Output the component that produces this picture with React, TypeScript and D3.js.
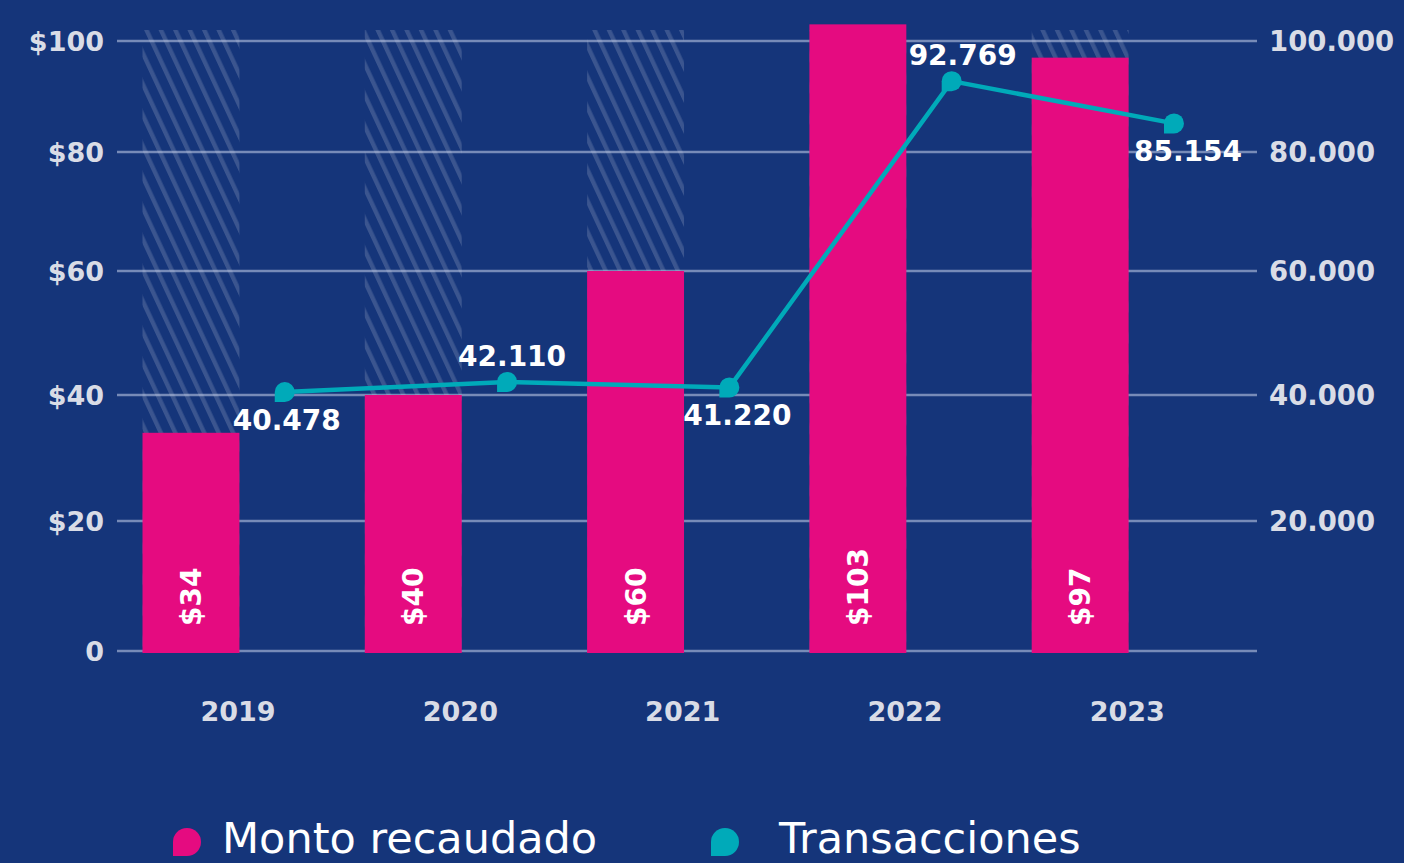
import React, { useEffect, useRef } from 'react'
import * as d3 from 'd3'

// values
const years = ['2019', '2020', '2021', '2022', '2023']
const montoRecaudado = [34, 40, 60, 103, 97] // millones de $
const transacciones = [40478, 42110, 41220, 92769, 85154]
const leftTicks = [0, 20, 40, 60, 80, 100]
const rightTicks = [20000, 40000, 60000, 80000, 100000]
const legendItems = ['Monto recaudado', 'Transacciones']

const W = 1404
const H = 863
const BG = '#15357a'
const PINK = '#e50b80'
const TEAL = '#00aab9'
const AXIS_TEXT = '#d9dce6'
const FONT = '"DejaVu Sans", sans-serif'

// drop shaped marker: circle with the lower-left corner squared off
const dropPath = (cx: number, cy: number, r: number) =>
  `M${cx - r},${cy + r}L${cx - r},${cy}A${r},${r} 0 0 1 ${cx},${cy - r}` +
  `A${r},${r} 0 0 1 ${cx + r},${cy}A${r},${r} 0 0 1 ${cx},${cy + r}Z`

export default function App() {
  const svgRef = useRef<SVGSVGElement>(null)

  useEffect(() => {
    if (!svgRef.current) return
    const svg = d3.select(svgRef.current)
    svg.selectAll('*').remove()

    const locale = d3.formatLocale({ decimal: ',', thousands: '.', grouping: [3], currency: ['$', ''] })
    const fmtThousands = locale.format(',')

    const x = d3.scaleBand<string>().domain(years).range([142.5, 142.5 + 5 * 222.3]).padding(0)
    const bw = x.bandwidth()
    const barW = bw * 0.436

    // the reference axis spacing is uneven, so map ticks to their drawn positions
    const yLeft = d3.scaleLinear().domain(leftTicks).range([651, 521, 395, 271, 152, 41])
    const yRight = d3
      .scaleLinear()
      .domain(leftTicks.map((d) => d * 1000))
      .range(yLeft.range())

    svg.append('rect').attr('width', W).attr('height', H).attr('fill', BG)

    // hatch pattern for the background columns
    const defs = svg.append('defs')
    const pat = defs
      .append('pattern')
      .attr('id', 'hatch')
      .attr('patternUnits', 'userSpaceOnUse')
      .attr('width', 13.1)
      .attr('height', 13.1)
      .attr('patternTransform', 'rotate(-25)')
    pat
      .append('rect')
      .attr('x', 0)
      .attr('y', 0)
      .attr('width', 4.3)
      .attr('height', 13.1)
      .attr('fill', 'rgba(255,255,255,0.16)')

    const hatchTop = yLeft(100) - 11
    svg
      .append('g')
      .selectAll('rect')
      .data(years)
      .join('rect')
      .attr('x', (d) => x(d)!)
      .attr('y', hatchTop)
      .attr('width', barW)
      .attr('height', yLeft(0) - hatchTop)
      .attr('fill', 'url(#hatch)')

    // gridlines
    svg
      .append('g')
      .selectAll('line')
      .data(leftTicks)
      .join('line')
      .attr('x1', 117)
      .attr('x2', 1257)
      .attr('y1', (d) => yLeft(d))
      .attr('y2', (d) => yLeft(d))
      .attr('stroke', 'rgba(200,210,235,0.55)')
      .attr('stroke-width', 2.5)

    // left axis labels
    svg
      .append('g')
      .selectAll('text')
      .data(leftTicks)
      .join('text')
      .attr('x', 104)
      .attr('y', (d) => yLeft(d) + 10)
      .attr('text-anchor', 'end')
      .attr('font-family', FONT)
      .attr('font-weight', 'bold')
      .attr('font-size', 27)
      .attr('fill', AXIS_TEXT)
      .text((d) => (d === 0 ? '0' : `$${d}`))

    // right axis labels
    svg
      .append('g')
      .selectAll('text')
      .data(rightTicks)
      .join('text')
      .attr('x', 1269)
      .attr('y', (d) => yRight(d) + 10)
      .attr('text-anchor', 'start')
      .attr('font-family', FONT)
      .attr('font-weight', 'bold')
      .attr('font-size', 27.5)
      .attr('fill', AXIS_TEXT)
      .text((d) => fmtThousands(d))

    // bars
    svg
      .append('g')
      .selectAll('rect')
      .data(montoRecaudado)
      .join('rect')
      .attr('x', (_, i) => x(years[i])!)
      .attr('y', (d) => yLeft(d))
      .attr('width', barW)
      .attr('height', (d) => yLeft(0) + 2 - yLeft(d))
      .attr('fill', PINK)

    // rotated value labels inside bars
    svg
      .append('g')
      .selectAll('text')
      .data(montoRecaudado)
      .join('text')
      .attr('transform', (_, i) => `translate(${x(years[i])! + barW / 2 + 10},626) rotate(-90)`)
      .attr('text-anchor', 'start')
      .attr('font-family', FONT)
      .attr('font-weight', 'bold')
      .attr('font-size', 28)
      .attr('fill', '#ffffff')
      .text((d) => `$${d}`)

    // year labels
    svg
      .append('g')
      .selectAll('text')
      .data(years)
      .join('text')
      .attr('x', (d) => x(d)! + bw * 0.43)
      .attr('y', 721)
      .attr('text-anchor', 'middle')
      .attr('font-family', FONT)
      .attr('font-weight', 'bold')
      .attr('font-size', 27)
      .attr('fill', AXIS_TEXT)
      .text((d) => d)

    // transacciones line
    const px = (i: number) => x(years[i])! + bw * 0.64
    const line = d3
      .line<number>()
      .x((_, i) => px(i))
      .y((d) => yRight(d))
    svg
      .append('path')
      .datum(transacciones)
      .attr('d', line)
      .attr('fill', 'none')
      .attr('stroke', TEAL)
      .attr('stroke-width', 4.5)

    svg
      .append('g')
      .selectAll('path')
      .data(transacciones)
      .join('path')
      .attr('d', (d, i) => dropPath(px(i), yRight(d), 10))
      .attr('fill', TEAL)

    // alternate the point labels below / above the line
    svg
      .append('g')
      .selectAll('text')
      .data(transacciones)
      .join('text')
      .attr('x', (_, i) => px(i) + 2 + i * 3)
      .attr('y', (d, i) => yRight(d) + (i % 2 === 0 ? 38 : -16))
      .attr('text-anchor', 'middle')
      .attr('font-family', FONT)
      .attr('font-weight', 'bold')
      .attr('font-size', 28)
      .attr('fill', '#ffffff')
      .text((d) => fmtThousands(d))

    // legend
    const legendX = [187, 725]
    const legendColors = [PINK, TEAL]
    const lg = svg
      .append('g')
      .selectAll('g')
      .data(legendItems)
      .join('g')
      .attr('transform', (_, i) => `translate(${legendX[i]},842)`)
    lg.append('path')
      .attr('d', dropPath(0, 0, 14))
      .attr('fill', (_, i) => legendColors[i])
    lg.append('text')
      .attr('x', (_, i) => (i === 0 ? 35 : 54))
      .attr('y', 11)
      .attr('font-family', FONT)
      .attr('font-size', 43)
      .attr('fill', '#ffffff')
      .text((d) => d)
  }, [])

  return (
    <svg
      ref={svgRef}
      width={W}
      height={H}
      style={{ position: 'absolute', left: 0, top: 0, display: 'block' }}
    />
  )
}
